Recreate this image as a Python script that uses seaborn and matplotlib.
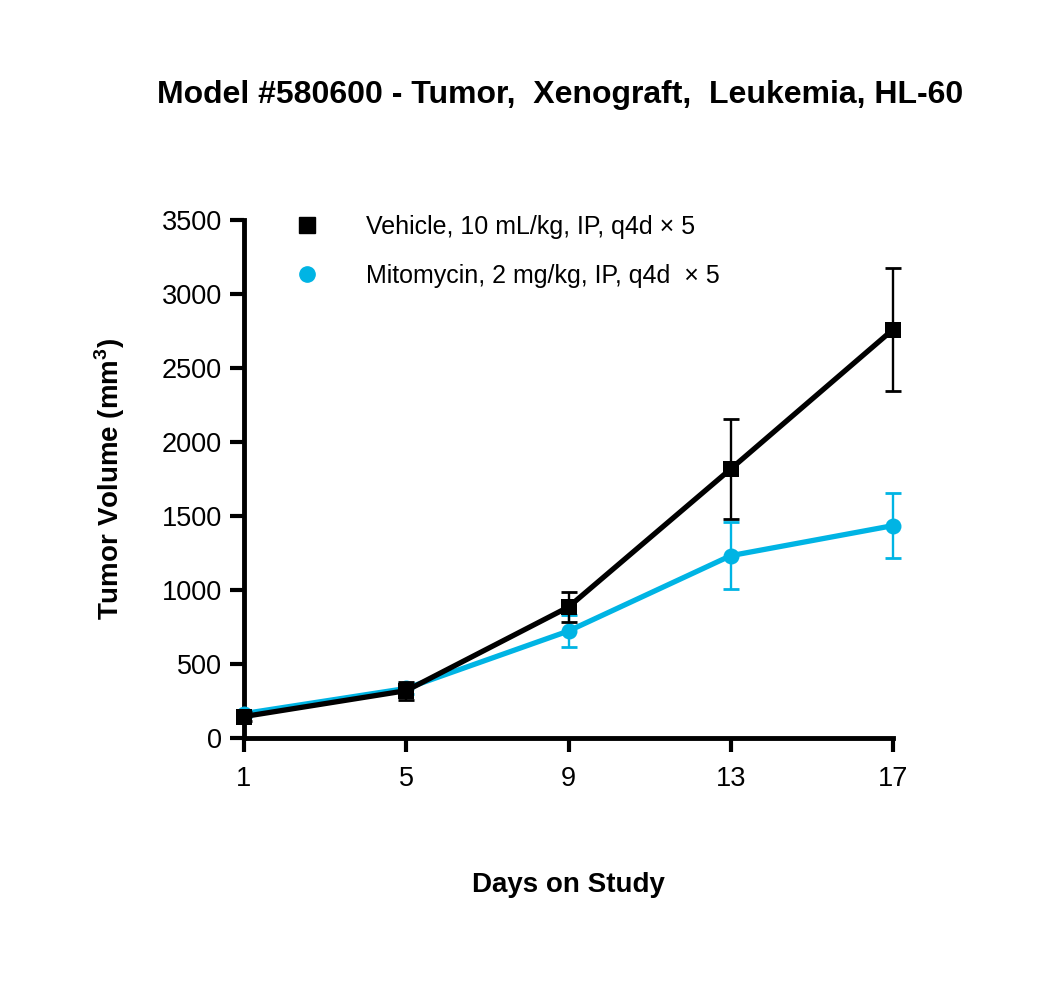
import matplotlib

matplotlib.use("Agg")
import matplotlib.pyplot as plt
import pandas as pd
import seaborn as sns
from matplotlib.lines import Line2D

# values
days = [1, 5, 9, 13, 17]
vehicle_mean = [145, 320, 885, 1818, 2760]
vehicle_err = [30, 60, 100, 340, 418]
mito_mean = [165, 335, 723, 1232, 1435]
mito_err = [20, 40, 108, 228, 218]

series_names = ["Vehicle, 10 mL/kg, IP, q4d \u00d7 5", "Mitomycin, 2 mg/kg, IP, q4d  \u00d7 5"]
yticks = [0, 500, 1000, 1500, 2000, 2500, 3000, 3500]
title = "Model #580600 - Tumor,  Xenograft,  Leukemia, HL-60"

BLACK = "#000000"
CYAN = "#00B4E4"

sns.set_style("ticks")
plt.rcParams["font.family"] = ["Liberation Sans", "DejaVu Sans"]
plt.rcParams["mathtext.fontset"] = "custom"
plt.rcParams["mathtext.rm"] = "Liberation Sans"
plt.rcParams["mathtext.bf"] = "Liberation Sans:bold"
plt.rcParams["text.color"] = BLACK
plt.rcParams["axes.labelcolor"] = BLACK
plt.rcParams["xtick.color"] = BLACK
plt.rcParams["ytick.color"] = BLACK

df = pd.DataFrame(
    {
        "day": days * 2,
        "volume": vehicle_mean + mito_mean,
        "err": vehicle_err + mito_err,
        "group": [series_names[0]] * len(days) + [series_names[1]] * len(days),
    }
)

fig = plt.figure(figsize=(10.5, 9.91), dpi=100)
ax = fig.add_axes([244 / 1050, 1 - 738 / 991, (893 - 244) / 1050, 518 / 991])

styles = {
    series_names[0]: dict(color=BLACK, marker="s", ms=12, z=4),
    series_names[1]: dict(color=CYAN, marker="o", ms=11.5, z=2),
}

for name, st in styles.items():
    sub = df[df["group"] == name]
    ax.errorbar(
        sub["day"],
        sub["volume"],
        yerr=sub["err"],
        fmt="none",
        ecolor=st["color"],
        elinewidth=1.7,
        capsize=5.5,
        capthick=2,
        zorder=st["z"],
        clip_on=False,
    )
    sns.lineplot(
        data=sub,
        x="day",
        y="volume",
        ax=ax,
        color=st["color"],
        marker=st["marker"],
        markersize=st["ms"],
        markeredgewidth=0,
        linewidth=3.8,
        legend=False,
        zorder=st["z"] + 1,
        errorbar=None,
        clip_on=False,
    )

ax.set_xlim(1, 17)
ax.set_ylim(0, 3500)
ax.set_xticks(days)
ax.set_yticks(yticks)
ax.tick_params(axis="both", labelsize=19.5, width=3, length=10)
ax.tick_params(axis="y", pad=6)
ax.tick_params(axis="x", pad=10)
for side in ["top", "right"]:
    ax.spines[side].set_visible(False)
for side in ["left", "bottom"]:
    ax.spines[side].set_linewidth(3.5)
    ax.spines[side].set_color(BLACK)
    ax.spines[side].set_capstyle("projecting")

ax.set_xlabel("Days on Study", fontsize=20, fontweight="bold")
ax.set_ylabel(r"Tumor Volume (mm$^\mathbf{3}$)", fontsize=20, fontweight="bold")
ax.xaxis.set_label_coords(0.5, -0.258)
ax.yaxis.set_label_coords(-0.181, 0.5)

handles = [
    Line2D([], [], color=st["color"], marker=st["marker"], linestyle="none", markersize=st["ms"] - 0.5)
    for st in styles.values()
]
ax.legend(
    handles,
    list(styles.keys()),
    loc="upper left",
    bbox_to_anchor=(0.08, 1.01),
    frameon=False,
    fontsize=18,
    handlelength=0.9,
    handletextpad=1.9,
    labelspacing=1.0,
    borderpad=0,
    borderaxespad=0,
)

fig.text(0.533, 1 - 95 / 991, title, ha="center", va="center", fontsize=23, fontweight="bold")

fig.savefig("out.png", dpi=100, facecolor="white")
